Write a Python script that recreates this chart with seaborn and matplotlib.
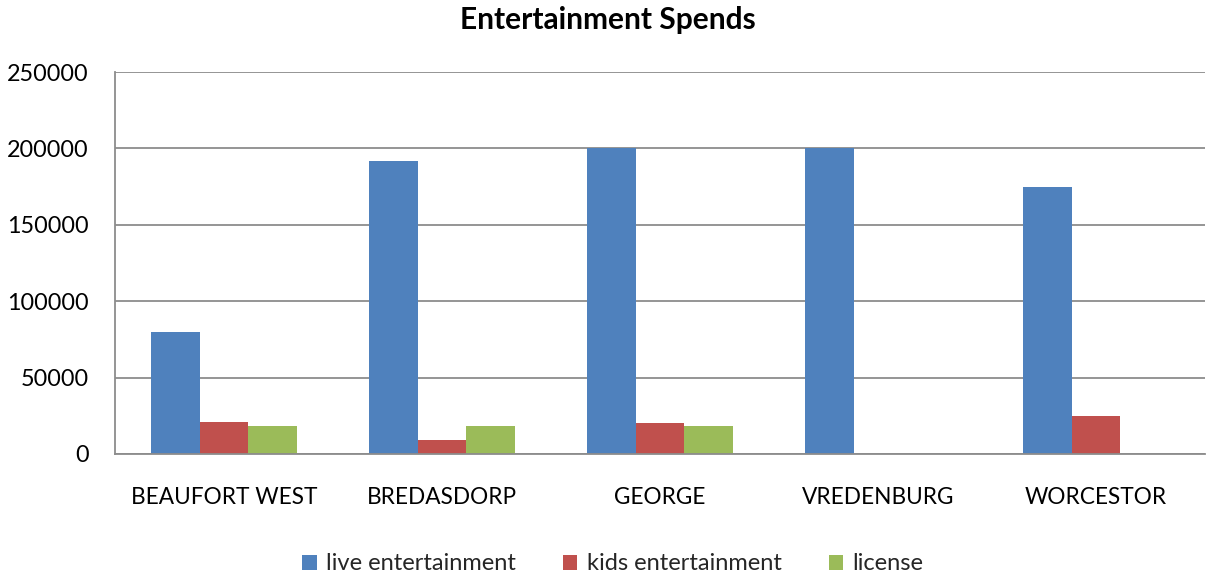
import matplotlib
matplotlib.use("Agg")
import matplotlib.pyplot as plt
import seaborn as sns
import pandas as pd
from matplotlib.patches import Patch

towns = ["BEAUFORT WEST", "BREDASDORP", "GEORGE", "VREDENBURG", "WORCESTOR"]
series = ["live entertainment", "kids entertainment", "license"]
live_entertainment = [80000, 192000, 200000, 200000, 175000]
kids_entertainment = [21000, 9000, 20000, 0, 25000]
license_spend = [18000, 18000, 18000, 0, 0]
y_ticks = [0, 50000, 100000, 150000, 200000, 250000]
colors = ["#4F81BD", "#C0504D", "#9BBB59"]

df = pd.DataFrame({
    "town": towns * 3,
    "series": [series[0]] * 5 + [series[1]] * 5 + [series[2]] * 5,
    "value": live_entertainment + kids_entertainment + license_spend,
})

sns.set_theme(style="white")
plt.rcParams["font.family"] = ["Lato", "DejaVu Sans"]

fig = plt.figure(figsize=(12.06, 5.79), dpi=100)
ax = fig.add_axes([115 / 1206, 1 - 454 / 579, 1090 / 1206, 382 / 579])

sns.barplot(data=df, x="town", y="value", hue="series", hue_order=series,
            order=towns, palette=colors, width=0.67, saturation=1,
            edgecolor="none", linewidth=0, ax=ax, legend=False)

ax.set_ylim(0, 250000)
ax.set_xlim(-0.5, 4.5)
ax.set_yticks(y_ticks)
ax.set_yticklabels([str(t) for t in y_ticks], fontsize=16.8, color="black")
ax.tick_params(axis="x", labelsize=16.3, colors="black", pad=24, length=0)
ax.tick_params(axis="y", pad=19, length=0)
ax.set_xlabel("")
ax.set_ylabel("")
ax.grid(axis="y", color="#8C8C8C", linewidth=1.3)
ax.set_axisbelow(True)
for side in ["top", "right"]:
    ax.spines[side].set_visible(False)
for side in ["left", "bottom"]:
    ax.spines[side].set_color("#8C8C8C")
    ax.spines[side].set_linewidth(1.3)

fig.text(608 / 1206, 1 - 20 / 579, "Entertainment Spends", ha="center", va="center",
         fontsize=21.5, fontweight="bold", color="black")

handles = [Patch(facecolor=c, edgecolor="none", label=s) for c, s in zip(colors, series)]
fig.legend(handles=handles, loc="center", bbox_to_anchor=(613 / 1206, 1 - 564 / 579),
           ncol=3, frameon=False, fontsize=17, handlelength=0.6, handleheight=0.6,
           handletextpad=0.4, columnspacing=2.0)

fig.savefig("out.png", dpi=100)
